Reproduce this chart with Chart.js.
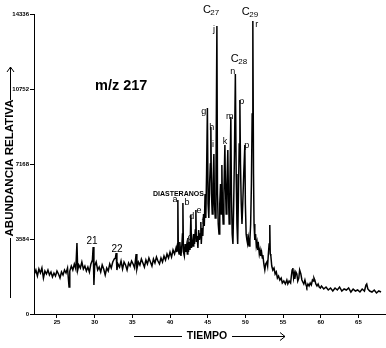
<!DOCTYPE html>
<html>
<head>
<meta charset="utf-8">
<script src="https://cdn.jsdelivr.net/npm/chart.js@4.4.1/dist/chart.umd.min.js"></script>
<style>
  html, body { margin: 0; padding: 0; background: #fff; }
  #wrap { width: 386px; height: 348px; }
</style>
</head>
<body>
<div id="wrap"><canvas id="myChart" width="386" height="348"></canvas></div>
<script>
// Cromatograma m/z 217 (tiempo en min, abundancia en cuentas)
const tiempo = [
  22.0, 22.2, 22.4, 22.6, 22.8, 23.0, 23.2, 23.4, 23.6, 23.8, 24.0, 24.2, 24.4, 24.6, 24.8,
  25.0, 25.2, 25.4, 25.6, 25.8, 26.0, 26.2, 26.4, 26.6, 26.7, 26.9, 27.1, 27.3, 27.5, 27.65,
  27.75, 27.9, 28.1, 28.3, 28.5, 28.7, 28.9, 29.1, 29.3, 29.5, 29.7, 29.8, 29.9, 30.0, 30.2,
  30.4, 30.6, 30.8, 31.0, 31.2, 31.4, 31.6, 31.8, 32.0, 32.2, 32.4, 32.6, 32.75, 32.85, 32.95,
  33.1, 33.3, 33.5, 33.7, 33.9, 34.1, 34.3, 34.5, 34.7, 34.9, 35.1, 35.3, 35.5, 35.6, 35.8,
  36.0, 36.2, 36.4, 36.6, 36.8, 37.0, 37.2, 37.4, 37.6, 37.8, 38.0, 38.2, 38.4, 38.6, 38.8,
  39.0, 39.2, 39.4, 39.6, 39.8, 40.0, 40.2, 40.4, 40.6, 40.8,
  40.9, 41.0, 41.04, 41.1, 41.2, 41.3, 41.45, 41.55, 41.65, 41.71, 41.78, 41.9, 42.0, 42.1, 42.2,
  42.3, 42.37, 42.45, 42.55, 42.65, 42.77, 42.85, 42.95, 43.05, 43.15, 43.25, 43.35, 43.43, 43.5, 43.6,
  43.7, 43.8, 43.9, 44.0, 44.09, 44.15, 44.25, 44.35, 44.45, 44.55, 44.65, 44.75, 44.85, 44.96, 45.05,
  45.15, 45.25, 45.35, 45.42, 45.5, 45.6, 45.7, 45.82, 45.9, 46.0, 46.1, 46.22, 46.3, 46.4, 46.5,
  46.6, 46.7, 46.8, 46.88, 46.95, 47.05, 47.15, 47.28, 47.35, 47.45, 47.55, 47.67, 47.75, 47.85, 47.95,
  48.07, 48.15, 48.25, 48.35, 48.45, 48.55, 48.67, 48.78, 48.88, 48.98, 49.08, 49.18, 49.27, 49.35, 49.45,
  49.55, 49.65, 49.78, 49.93, 50.0, 50.1, 50.2, 50.3, 50.4, 50.5, 50.6, 50.7, 50.8, 50.9, 50.99,
  51.08, 51.15, 51.25, 51.35, 51.45, 51.55, 51.65, 51.75, 51.85, 51.95, 52.05, 52.15, 52.25, 52.32, 52.45,
  52.58, 52.7, 52.85, 52.95, 53.05, 53.15, 53.24, 53.3, 53.38, 53.5, 53.64, 53.8, 53.95, 54.1, 54.25,
  54.4, 54.57, 54.75, 54.9, 55.1, 55.3, 55.5, 55.63, 55.8, 56.0, 56.1, 56.2, 56.3, 56.4, 56.5,
  56.56, 56.7, 56.83, 56.95, 57.09, 57.2, 57.36, 57.5, 57.62, 57.75, 57.9, 58.05, 58.15, 58.3, 58.45,
  58.6, 58.75, 58.9, 59.0, 59.1, 59.21, 59.35, 59.5, 59.65, 59.8, 59.95, 60.1, 60.4, 60.7, 61.0,
  61.3, 61.6, 61.9, 62.2, 62.5, 62.8, 63.1, 63.4, 63.7, 64.0, 64.3, 64.6, 64.9, 65.2, 65.5,
  65.8, 66.0, 66.1, 66.25, 66.5, 66.8, 67.1, 67.4, 67.7, 68.0
];
const abundancia = [
  1912, 2103, 1816, 2151, 1959, 2198, 1720, 2055, 1912, 2103, 1864, 2007, 1768, 1959, 1816,
  2055, 1912, 1720, 2007, 1864, 2103, 1959, 2198, 1290, 2055, 2294, 2103, 2390, 2151, 3393,
  2103, 2342, 2198, 2485, 2151, 2294, 2055, 2246, 2007, 2390, 2581, 3202, 1386, 2294, 2485,
  2103, 2246, 2007, 2342, 2151, 1864, 2198, 2055, 2390, 2198, 2485, 2628, 2676, 2915, 2103,
  2390, 2246, 2533, 2151, 2485, 2342, 2103, 2437, 2294, 2533, 2390, 2198, 2867, 2151, 2485,
  2342, 2628, 2437, 2246, 2581, 2390, 2676, 2485, 2294, 2628, 2437, 2724, 2533, 2390, 2676,
  2485, 2772, 2581, 2867, 2676, 2963, 2724, 3059, 2867, 3154,
  2963, 3345, 5448, 3059, 2867, 3441, 2772, 3154, 3823, 5305, 2963, 2772, 3345, 2963, 3250,
  2867, 3632, 2963, 3441, 3059, 4731, 3154, 3536, 3250, 3823, 3345, 4014, 4970, 3441, 3728,
  3154, 4014, 3536, 3823, 4397, 3345, 4110, 3728, 4779, 4206, 5735, 4588, 6691, 9845, 5257,
  4588, 6213, 7169, 8937, 5735, 4779, 6213, 7646, 5257, 4588, 6691, 13764, 5735, 4301, 3823,
  5257, 6213, 4779, 7121, 5257, 4301, 5735, 8077, 6213, 4779, 6213, 7838, 5735, 4301, 6213,
  9415, 5735, 3823, 3345, 5257, 7646, 11470, 6691, 4301, 3345, 5735, 8124, 10227, 7169, 5257,
  4301, 5257, 6691, 8077, 5257, 3823, 3536, 3345, 3632, 3250, 3536, 4301, 6213, 9558, 14002,
  6691, 4301, 3536, 3823, 3250, 3441, 3059, 3250, 2867, 3059, 2772, 2963, 2676, 2820, 2390,
  2103, 2390, 2485, 2294, 2867, 3345, 4253, 2867, 2772, 2294, 2103, 2198, 1912, 2007, 1720,
  1816, 1625, 1720, 1481, 1577, 1434, 1625, 1434, 1577, 1481, 1816, 2103, 2198, 1720, 1912,
  1673, 2007, 1912, 1577, 1720, 2103, 1912, 1625, 1529, 1434, 1625, 1386, 1290, 1434, 1338,
  1481, 1386, 1625, 1577, 1720, 1625, 1434, 1338, 1434, 1290, 1243, 1338, 1195, 1290, 1147,
  1243, 1099, 1243, 1147, 1290, 1099, 1195, 1147, 1243, 1051, 1195, 1099, 1147, 1051, 1195,
  1099, 1386, 1434, 1195, 1099, 1051, 1147, 1004, 1099, 1051
];
const ticksTiempo = [25, 30, 35, 40, 45, 50, 55, 60, 65];
const ticksAbundancia = [0, 3584, 7168, 10752, 14336];

const FUENTE = '"Liberation Sans", Arial, sans-serif';

// Etiquetas de picos (posicion en unidades de los ejes)
const rotulos = [
  { txt: '21', t: 29.64, v: 3489, size: 10 },
  { txt: '22', t: 32.96, v: 3106, size: 10 },
  { txt: 'a', t: 40.65, v: 5448, size: 9 },
  { txt: 'b', t: 42.24, v: 5305, size: 9 },
  { txt: 'c', t: 42.64, v: 3632, size: 9 },
  { txt: 'd', t: 42.9, v: 4636, size: 9 },
  { txt: 'e', t: 43.83, v: 4922, size: 9 },
  { txt: 'f', t: 44.36, v: 4397, size: 9 },
  { txt: 'g', t: 44.49, v: 9654, size: 9 },
  { txt: 'h', t: 45.55, v: 8889, size: 9 },
  { txt: 'i', t: 45.69, v: 8077, size: 9 },
  { txt: 'k', t: 47.28, v: 8220, size: 9 },
  { txt: 'm', t: 47.94, v: 9415, size: 9 },
  { txt: 'p', t: 50.19, v: 8029, size: 9 },
  { txt: 'o', t: 49.53, v: 10131, size: 9 },
  { txt: 'j', t: 45.82, v: 13572, size: 9 },
  { txt: 'r', t: 51.52, v: 13811, size: 9 },
  { txt: 'n', t: 48.34, v: 11565, size: 9 }
];
const carbonos = [
  { base: 'C', sub: '27', t: 44.36, v: 14528 },
  { base: 'C', sub: '29', t: 49.53, v: 14433 },
  { base: 'C', sub: '28', t: 48.07, v: 12186 }
];

function flecha(ctx, x1, y1, x2, y2, punta) {
  ctx.beginPath();
  ctx.moveTo(x1, y1);
  ctx.lineTo(x2, y2);
  ctx.stroke();
  if (punta === 'arriba') {
    ctx.beginPath();
    ctx.moveTo(x2 - 3.5, y2 + 5);
    ctx.lineTo(x2, y2);
    ctx.lineTo(x2 + 3.5, y2 + 5);
    ctx.stroke();
  }
  if (punta === 'derecha') {
    ctx.beginPath();
    ctx.moveTo(x2 - 5, y2 - 4);
    ctx.lineTo(x2, y2);
    ctx.lineTo(x2 - 5, y2 + 4);
    ctx.stroke();
  }
}

const anotaciones = {
  id: 'anotaciones',
  afterDraw(chart) {
    const ctx = chart.ctx;
    const sx = chart.scales.x, sy = chart.scales.y;
    ctx.save();
    ctx.fillStyle = '#000';
    ctx.strokeStyle = '#000';
    ctx.lineWidth = 1;
    ctx.textBaseline = 'middle';

    rotulos.forEach(r => {
      ctx.font = r.size + 'px ' + FUENTE;
      ctx.textAlign = 'center';
      ctx.fillText(r.txt, sx.getPixelForValue(r.t), sy.getPixelForValue(r.v));
    });

    carbonos.forEach(c => {
      const px = sx.getPixelForValue(c.t), py = sy.getPixelForValue(c.v);
      ctx.textAlign = 'left';
      ctx.font = '11px ' + FUENTE;
      ctx.fillText(c.base, px, py);
      const w = ctx.measureText(c.base).width;
      ctx.font = '8px ' + FUENTE;
      ctx.fillText(c.sub, px + w - 0.5, py + 3);
    });

    // DIASTERANOS
    ctx.textAlign = 'left';
    ctx.font = 'bold 7px ' + FUENTE;
    ctx.fillText('DIASTERANOS', sx.getPixelForValue(37.73), sy.getPixelForValue(5735));

    // m/z 217
    ctx.font = 'bold 14.5px ' + FUENTE;
    ctx.fillText('m/z 217', 95, 86);

    // Titulo eje X con flecha
    ctx.textAlign = 'center';
    ctx.font = 'bold 10.5px ' + FUENTE;
    ctx.fillText('TIEMPO', 207, 336);
    flecha(ctx, 134, 336.5, 182, 336.5);
    flecha(ctx, 232, 336.5, 285, 336.5, 'derecha');

    // Titulo eje Y con flecha
    ctx.save();
    ctx.translate(10, 168);
    ctx.rotate(-Math.PI / 2);
    ctx.font = 'bold 11.5px ' + FUENTE;
    ctx.fillText('ABUNDANCIA RELATIVA', 0, 0);
    ctx.restore();
    flecha(ctx, 10.5, 298, 10.5, 238);
    flecha(ctx, 10.5, 100, 10.5, 67, 'arriba');

    ctx.restore();
  }
};

new Chart('myChart', {
  type: 'line',
  data: {
    datasets: [{
      data: tiempo.map((t, i) => ({ x: t, y: abundancia[i] })),
      borderColor: '#000',
      borderWidth: 1.5,
      pointRadius: 0,
      tension: 0,
      fill: false
    }]
  },
  options: {
    responsive: false,
    animation: false,
    layout: { padding: { top: 14, left: 0, right: 0, bottom: 0 } },
    plugins: { legend: { display: false }, tooltip: { enabled: false } },
    scales: {
      x: {
        type: 'linear',
        min: 21.95,
        max: 68.66,
        afterBuildTicks: s => { s.ticks = ticksTiempo.map(v => ({ value: v })); },
        afterFit: s => { s.height = 34; },
        border: { color: '#000', width: 1 },
        grid: { drawOnChartArea: false, color: '#000', tickLength: 4 },
        ticks: { color: '#000', padding: 1, maxRotation: 0, callback: v => String(v), font: { size: 6, weight: 'bold', family: FUENTE } }
      },
      y: {
        min: 0,
        max: 14336,
        afterBuildTicks: s => { s.ticks = ticksAbundancia.map(v => ({ value: v })); },
        afterFit: s => { s.width = 34; },
        border: { color: '#000', width: 1 },
        grid: { drawOnChartArea: false, color: '#000', tickLength: 4 },
        ticks: { color: '#000', padding: 1, callback: v => String(v), font: { size: 6, weight: 'bold', family: FUENTE } }
      }
    }
  },
  plugins: [anotaciones]
});
</script>
</body>
</html>
